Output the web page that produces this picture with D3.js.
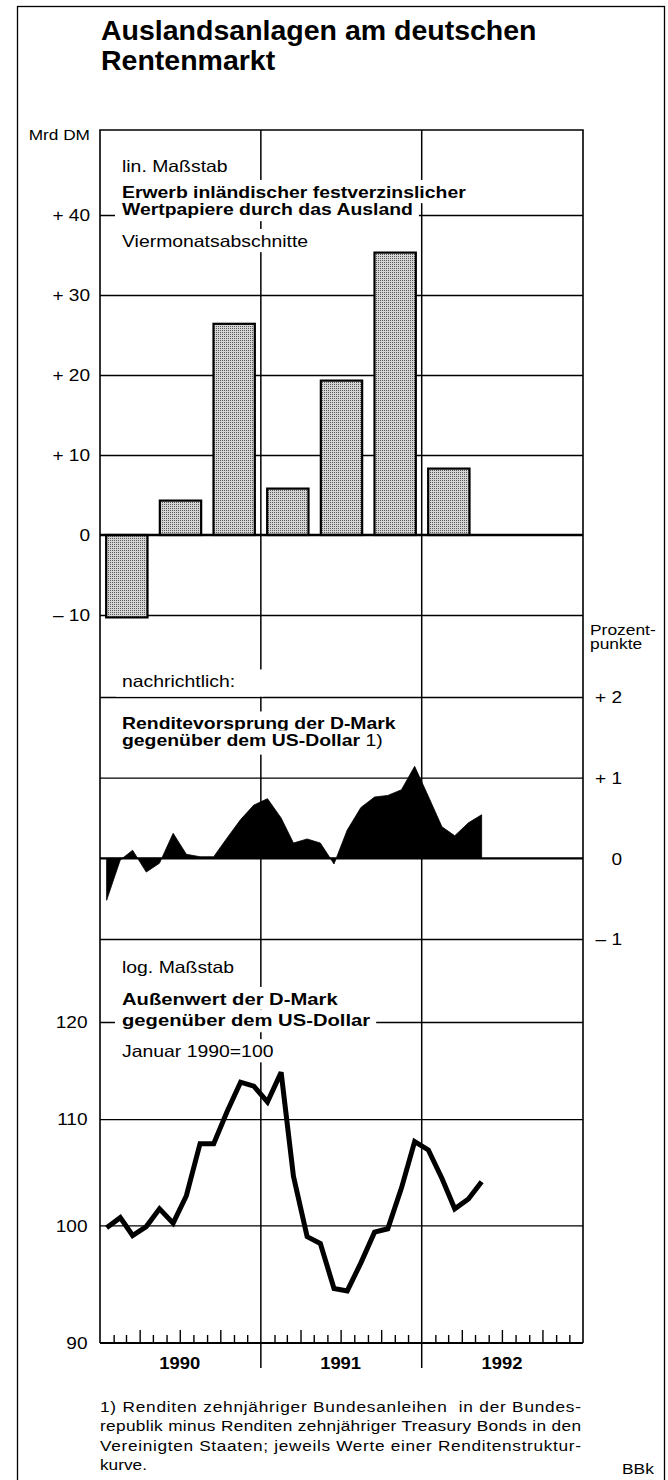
<!DOCTYPE html>
<html><head><meta charset="utf-8">
<script src="https://cdn.jsdelivr.net/npm/d3@7"></script>
<style>body{margin:0;background:#fff}svg{display:block}</style>
</head><body>
<svg id="c" width="668" height="1480"></svg>
<script>
// ---------------- data ----------------
const barPeriods = ["1990 I","1990 II","1990 III","1991 I","1991 II","1991 III","1992 I","1992 II","1992 III"];
const barValues  = [-10.3, 4.3, 26.4, 5.8, 19.3, 35.3, 8.3, null, null];
const barTicks = [40, 30, 20, 10, 0, -10];
const barTickLabels = ["+ 40", "+ 30", "+ 20", "+ 10", "0", "– 10"];

const months = ["1990-01","1990-02","1990-03","1990-04","1990-05","1990-06","1990-07","1990-08","1990-09","1990-10","1990-11","1990-12",
                "1991-01","1991-02","1991-03","1991-04","1991-05","1991-06","1991-07","1991-08","1991-09","1991-10","1991-11","1991-12",
                "1992-01","1992-02","1992-03","1992-04","1992-05"];
const spreadValues = [-0.52, -0.02, 0.10, -0.17, -0.06, 0.31, 0.05, 0.02, 0.02, 0.25, 0.48, 0.66,
                      0.74, 0.50, 0.19, 0.24, 0.19, -0.07, 0.35, 0.63, 0.76, 0.78, 0.85, 1.14,
                      0.77, 0.39, 0.28, 0.44, 0.54];
const spreadTicks = [2, 1, 0, -1];
const spreadTickLabels = ["+ 2", "+ 1", "0", "– 1"];

const fxValues = [99.8, 100.7, 99.1, 99.9, 101.5, 100.2, 102.7, 107.6, 107.6, 110.7, 113.7, 113.3,
                  111.7, 114.7, 104.5, 99.0, 98.4, 94.5, 94.3, 96.7, 99.4, 99.7, 103.4, 107.8,
                  107.0, 104.3, 101.5, 102.4, 104.0];
const fxTicks = [120, 110, 100, 90];
const fxTickLabels = ["120", "110", "100", "90"];

const years = ["1990", "1991", "1992"];

const titleLines = ["Auslandsanlagen am deutschen", "Rentenmarkt"];
const footnoteLines = [
  "1) Renditen zehnjähriger Bundesanleihen  in der Bundes-",
  "republik minus Renditen zehnjähriger Treasury Bonds in den",
  "Vereinigten Staaten; jeweils Werte einer Renditenstruktur-",
  "kurve."
];

// ---------------- layout ----------------
const FONT = "'Liberation Sans', Arial, Helvetica, sans-serif";
const SX = 1.19;
const L = 100, R = 583, TOP = 130, BOT = 1343;

const svg = d3.select("#c");
const parseM = d3.timeParse("%Y-%m");
const mDates = months.map(m => d3.timeDay.offset(parseM(m), 15));

const x = d3.scaleTime().domain([new Date(1990,0,1), new Date(1993,0,1)]).range([L, R]);
const xb = d3.scaleBand().domain(barPeriods).range([L, R]).paddingInner(0.23).paddingOuter(0.115);
const yBar = d3.scaleLinear().domain([-10, 40]).range([615, 215]);
const ySp = d3.scaleLinear().domain([-1, 2]).range([939, 697]);
const yFx = d3.scaleLog().domain([90, 120]).range([BOT, 1022]);

// stipple pattern for bars
const defs = svg.append("defs");
const pat = defs.append("pattern").attr("id","stip").attr("width",2).attr("height",2).attr("patternUnits","userSpaceOnUse");
pat.append("rect").attr("width",2).attr("height",2).attr("fill","#d4d4d4");
pat.append("rect").attr("width",1).attr("height",1).attr("fill","#5a5a5a");

// outer border (bottom edge runs off the page)
svg.append("rect").attr("x",17.5).attr("y",6.5).attr("width",647).attr("height",1490)
  .attr("fill","none").attr("stroke","#000").attr("stroke-width",1.3);

// title
titleLines.forEach((t,i) => {
  svg.append("text").attr("x",101).attr("y",40 + i*30).attr("font-family",FONT)
    .attr("font-size",28.5).attr("font-weight","bold").attr("fill","#000").text(t);
});

// ---------------- gridlines via axes ----------------
function grid(scale, ticks) {
  const g = svg.append("g").attr("transform",`translate(${L},0)`)
    .call(d3.axisLeft(scale).tickValues(ticks).tickSize(-(R-L)).tickFormat(""));
  g.select(".domain").remove();
  g.selectAll("line").attr("stroke","#000").attr("stroke-width",1.3);
}
grid(yBar, [40,30,20,10,-10]);
grid(ySp, [2,1,-1]);
grid(yFx, [120,110,100]);

// vertical year dividers
const yearBounds = [new Date(1991,0,1), new Date(1992,0,1)];
svg.append("g").selectAll("line").data(yearBounds).join("line")
  .attr("x1", d=>x(d)).attr("x2", d=>x(d)).attr("y1", TOP).attr("y2", BOT+25)
  .attr("stroke","#000").attr("stroke-width",1.5);

// frame
svg.append("path").attr("d",`M${L},${BOT}V${TOP}H${R}V${BOT}`).attr("fill","none")
  .attr("stroke","#000").attr("stroke-width",1.6);

// ---------------- text helper ----------------
function label(x0, y0, parts, o = {}) {
  const sx = o.sx || SX;
  const g = svg.append("g").attr("transform",`translate(${x0},${y0}) scale(${sx},1)`);
  const t = g.append("text").attr("font-family",FONT).attr("font-size",o.size||16.3)
    .attr("text-anchor",o.anchor||"start").attr("fill","#000");
  (Array.isArray(parts) ? parts : [[parts, !!o.bold]]).forEach(([s,b]) => {
    t.append("tspan").attr("font-weight", b ? "bold" : "normal").text(s);
  });
  if (o.knock) {
    const b = t.node().getBBox();
    const [pl,pr,pt,pb] = o.knock;
    g.insert("rect","text").attr("x", b.x - pl/sx).attr("y", b.y - pt)
      .attr("width", b.width + (pl+pr)/sx).attr("height", b.height + pt + pb).attr("fill","#fff");
  }
  return g;
}
const K = [6,6,3,2];

// panel texts
label(122, 171.5, "lin. Maßstab", {knock:K});
label(122, 197.5, "Erwerb inländischer festverzinslicher", {bold:true, knock:K});
label(122, 214.5, "Wertpapiere durch das Ausland", {bold:true, knock:[7,6,1,3]});
label(122, 246.5, "Viermonatsabschnitte", {knock:K});

label(122, 687, "nachrichtlich:", {knock:[6,28,3,6]});
label(122, 729, "Renditevorsprung der D-Mark", {bold:true, knock:[6,6,3,1]});
label(122, 746, [["gegenüber dem US-Dollar", true], [" 1)", false]], {knock:[6,6,1,5]});

label(122, 972.7, "log. Maßstab", {knock:K});
label(122, 1005, "Außenwert der D-Mark", {bold:true, sx:1.24, knock:[6,6,3,1]});
label(122, 1025.7, "gegenüber dem US-Dollar", {bold:true, sx:1.24, knock:[7,6,1,3]});
label(122, 1056.7, "Januar 1990=100", {knock:K});

// unit labels
label(90, 140, "Mrd DM", {anchor:"end", size:15, sx:1.15});
{
  const g = svg.append("g").attr("transform",`translate(590,635) scale(1.2,1)`);
  const t = g.append("text").attr("font-family",FONT).attr("font-size",14.5).attr("fill","#000");
  t.append("tspan").attr("x",0).attr("dy",0).text("Prozent-");
  t.append("tspan").attr("x",0).attr("dy",14).text("punkte");
}

// ---------------- tick labels via axes ----------------
function tickLabels(scale, vals, labs, xPos, side, rightEdge) {
  const ax = side === "left" ? d3.axisLeft(scale) : d3.axisRight(scale);
  const g = svg.append("g").attr("transform",`translate(${xPos},0)`)
    .call(ax.tickValues(vals).tickSize(0).tickPadding(0).tickFormat((d,i)=>labs[i]));
  g.select(".domain").remove();
  g.selectAll("text").attr("font-family",FONT).attr("font-size",16.3).attr("fill","#000")
    .attr("x",0).attr("dy","0.36em").attr("text-anchor","end")
    .attr("transform",`translate(${rightEdge - xPos},0) scale(1.17,1)`);
}
tickLabels(yBar, barTicks, barTickLabels, L, "left", 90);
tickLabels(ySp, spreadTicks, spreadTickLabels, R, "right", 622);
tickLabels(yFx, fxTicks, fxTickLabels, L, "left", 87.5);

// ---------------- bars ----------------
svg.append("g").selectAll("rect")
  .data(barPeriods.map((p,i)=>({p, v:barValues[i]})).filter(d=>d.v!==null))
  .join("rect")
  .attr("x", d=>xb(d.p)).attr("width", xb.bandwidth())
  .attr("y", d=>yBar(Math.max(0,d.v))).attr("height", d=>Math.abs(yBar(d.v)-yBar(0)))
  .attr("fill","url(#stip)").attr("stroke","#000").attr("stroke-width",2.2);
svg.append("line").attr("x1",L).attr("x2",R).attr("y1",yBar(0)).attr("y2",yBar(0))
  .attr("stroke","#000").attr("stroke-width",2.6);

// ---------------- spread area ----------------
const spData = mDates.map((d,i)=>({d, v:spreadValues[i]}));
svg.append("path").datum(spData)
  .attr("d", d3.area().x(d=>x(d.d)).y0(ySp(0)).y1(d=>ySp(d.v)))
  .attr("fill","#000").attr("stroke","#000").attr("stroke-width",0.8);
svg.append("line").attr("x1",L).attr("x2",R).attr("y1",ySp(0)).attr("y2",ySp(0))
  .attr("stroke","#000").attr("stroke-width",2.2);

// ---------------- fx line ----------------
const fxData = mDates.map((d,i)=>({d, v:fxValues[i]}));
svg.append("path").datum(fxData)
  .attr("d", d3.line().x(d=>x(d.d)).y(d=>yFx(d.v)))
  .attr("fill","none").attr("stroke","#000").attr("stroke-width",5)
  .attr("stroke-linejoin","miter").attr("stroke-miterlimit",3);

// ---------------- x axis ----------------
const xg = svg.append("g").attr("transform",`translate(0,${BOT})`)
  .call(d3.axisBottom(x).ticks(d3.timeMonth.every(1)).tickSize(-8).tickFormat(""));
xg.select(".domain").attr("stroke","#000").attr("stroke-width",2).attr("d",`M${L},0H${R}`);
xg.selectAll(".tick line").attr("stroke","#000").attr("stroke-width",1.4)
  .attr("y2", d => (d.getMonth() % 3 === 0) ? -13 : -8)
  .attr("display", d => (d.getMonth() === 0) ? "none" : null);

years.forEach(yv => {
  const c = x(new Date(+yv, 6, 1));
  label(c, 1369, yv, {bold:true, anchor:"middle", sx:1.13});
});

// ---------------- footnote ----------------
footnoteLines.forEach((s,i) => {
  const g = svg.append("g").attr("transform",`translate(100,${1412 + i*19.3}) scale(${SX},1)`);
  const t = g.append("text").attr("font-family",FONT).attr("font-size",14.5).attr("fill","#000")
    .style("white-space","pre").text(s);
  if (i < footnoteLines.length - 1) t.attr("textLength", 481/SX).attr("lengthAdjust","spacing");
});
label(622, 1474, "BBk", {size:14.5, sx:1.2});
</script>
</body></html>
